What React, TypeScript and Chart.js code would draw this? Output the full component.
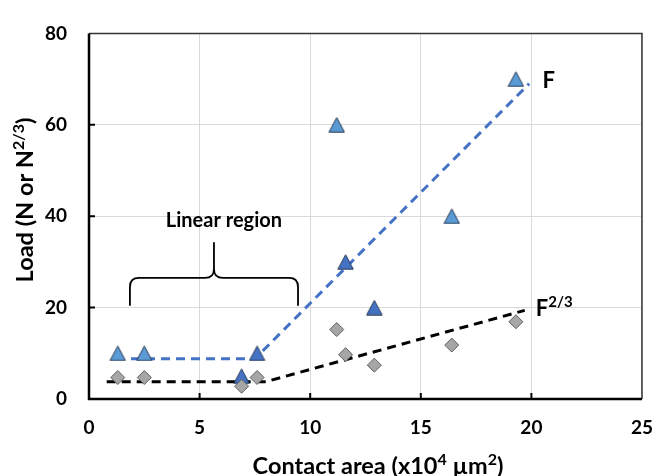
import React, { useEffect, useRef } from 'react';
import { Chart, registerables } from 'chart.js';

Chart.register(...registerables);

const FONT = 'Lato, "Open Sans", sans-serif';

// Measured series (x in 10^4 µm², y in N or N^(2/3))
const loadX = [1.3, 2.5, 6.9, 7.6, 11.2, 11.6, 12.9, 16.4, 19.3];
const loadY = [10, 10, 5, 10, 60, 30, 20, 40, 70];
const loadShade = ['light', 'light', 'dark', 'dark', 'light', 'dark', 'dark', 'light', 'light'];
const load23X = [1.3, 2.5, 6.9, 7.6, 11.2, 11.6, 12.9, 16.4, 19.3];
const load23Y = [4.7, 4.7, 2.8, 4.7, 15.2, 9.7, 7.4, 11.8, 16.9];

// Dashed guide lines
const fitFX = [1.9, 7.5, 19.9];
const fitFY = [8.8, 8.8, 69];
const fit23X = [0.8, 8.0, 19.7];
const fit23Y = [3.8, 3.8, 19.4];

// Axes
const xTicks = [0, 5, 10, 15, 20, 25];
const yTicks = [0, 20, 40, 60, 80];
const xTitleParts = [{ t: 'Contact area (x10' }, { t: '4', sup: true }, { t: ' µm' }, { t: '2', sup: true }, { t: ')' }];
const yTitleParts = [{ t: 'Load (N or N' }, { t: '2/3', sup: true }, { t: ')' }];

// Annotations
const regionLabel = 'Linear region';
const regionLabelPos = [6.1, 39.2];
const braceX = [1.85, 9.45];
const braceLevels = [20.4, 26.5, 34.3]; // ends, bar, tip
const braceMidX = 5.65;
const fLabelParts = [{ t: 'F' }];
const fLabelPos = [20.5, 69.7];
const f23LabelParts = [{ t: 'F' }, { t: '2/3', sup: true }];
const f23LabelPos = [20.2, 19.8];

type Part = { t: string; sup?: boolean };

function drawRich(ctx: CanvasRenderingContext2D, parts: Part[], x: number, y: number, size: number, align: 'left' | 'center') {
  const supSize = Math.round(size * 0.68);
  const widths = parts.map((p) => {
    ctx.font = `bold ${p.sup ? supSize : size}px ${FONT}`;
    return ctx.measureText(p.t).width;
  });
  const total = widths.reduce((a, b) => a + b, 0);
  let cx = align === 'center' ? x - total / 2 : x;
  const base = y + size * 0.36;
  ctx.textAlign = 'left';
  ctx.textBaseline = 'alphabetic';
  ctx.fillStyle = '#000';
  parts.forEach((p, i) => {
    ctx.font = `bold ${p.sup ? supSize : size}px ${FONT}`;
    ctx.fillText(p.t, cx, p.sup ? base - size * 0.42 : base);
    cx += widths[i];
  });
}

function makeTriangle(fill: string): HTMLCanvasElement {
  const c = document.createElement('canvas');
  c.width = 17;
  c.height = 16;
  const g = c.getContext('2d')!;
  g.beginPath();
  g.moveTo(8.5, 0.8);
  g.lineTo(16.2, 15.2);
  g.lineTo(0.8, 15.2);
  g.closePath();
  g.fillStyle = fill;
  g.fill();
  g.lineWidth = 1;
  g.strokeStyle = '#2b3a55';
  g.stroke();
  return c;
}

const decorPlugin = {
  id: 'decor',
  afterDatasetsDraw(chart: any) {
    const ctx: CanvasRenderingContext2D = chart.ctx;
    const xs = chart.scales.x;
    const ys = chart.scales.y;
    const { left, right, top, bottom } = chart.chartArea;
    ctx.save();
    // frame
    ctx.strokeStyle = '#333';
    ctx.lineWidth = 1.5;
    ctx.beginPath();
    ctx.moveTo(left, top);
    ctx.lineTo(right, top);
    ctx.lineTo(right, bottom);
    ctx.stroke();
    ctx.strokeStyle = '#000';
    ctx.lineWidth = 2.5;
    ctx.beginPath();
    ctx.moveTo(left, top);
    ctx.lineTo(left, bottom);
    ctx.lineTo(right, bottom);
    ctx.stroke();
    // inward tick marks
    ctx.lineWidth = 2;
    ctx.beginPath();
    xTicks.slice(1, -1).forEach((v) => {
      const px = xs.getPixelForValue(v);
      ctx.moveTo(px, bottom);
      ctx.lineTo(px, bottom - 6);
    });
    yTicks.slice(1, -1).forEach((v) => {
      const py = ys.getPixelForValue(v);
      ctx.moveTo(left, py);
      ctx.lineTo(left + 6, py);
    });
    ctx.stroke();

    // brace
    const x1 = xs.getPixelForValue(braceX[0]);
    const x2 = xs.getPixelForValue(braceX[1]);
    const xm = xs.getPixelForValue(braceMidX);
    const yEnd = ys.getPixelForValue(braceLevels[0]);
    const yBar = ys.getPixelForValue(braceLevels[1]);
    const yTip = ys.getPixelForValue(braceLevels[2]);
    const r = 9;
    ctx.lineWidth = 1.8;
    ctx.strokeStyle = '#000';
    ctx.beginPath();
    ctx.moveTo(x1, yEnd);
    ctx.lineTo(x1, yBar + r);
    ctx.quadraticCurveTo(x1, yBar, x1 + r, yBar);
    ctx.lineTo(xm - r, yBar);
    ctx.quadraticCurveTo(xm, yBar, xm, yBar - r);
    ctx.lineTo(xm, yTip);
    ctx.moveTo(xm, yBar - r);
    ctx.quadraticCurveTo(xm, yBar, xm + r, yBar);
    ctx.lineTo(x2 - r, yBar);
    ctx.quadraticCurveTo(x2, yBar, x2, yBar + r);
    ctx.lineTo(x2, yEnd);
    ctx.stroke();

    // labels
    drawRich(ctx, [{ t: regionLabel }], xs.getPixelForValue(regionLabelPos[0]), ys.getPixelForValue(regionLabelPos[1]), 20, 'center');
    drawRich(ctx, fLabelParts, xs.getPixelForValue(fLabelPos[0]), ys.getPixelForValue(fLabelPos[1]), 22, 'left');
    drawRich(ctx, f23LabelParts, xs.getPixelForValue(f23LabelPos[0]), ys.getPixelForValue(f23LabelPos[1]), 22, 'left');

    // axis titles
    drawRich(ctx, xTitleParts, 378, 466, 23.5, 'center');
    ctx.save();
    ctx.translate(25, 200);
    ctx.rotate(-Math.PI / 2);
    drawRich(ctx, yTitleParts, 0, 0, 23.5, 'center');
    ctx.restore();
    ctx.restore();
  },
};

export default function App() {
  const ref = useRef<HTMLCanvasElement | null>(null);
  useEffect(() => {
    if (!ref.current) return;
    const light = makeTriangle('#5b9bd5');
    const dark = makeTriangle('#4472c4');
    const chart = new Chart(ref.current, {
      type: 'scatter',
      data: {
        datasets: [
          {
            label: 'F',
            data: loadX.map((x, i) => ({ x, y: loadY[i] })),
            pointStyle: loadShade.map((s) => (s === 'light' ? light : dark)) as any,
            pointRadius: 8,
            order: 3,
          },
          {
            label: 'F^(2/3)',
            data: load23X.map((x, i) => ({ x, y: load23Y[i] })),
            pointStyle: 'rectRot',
            pointRadius: 7,
            backgroundColor: '#a6a6a6',
            borderColor: '#5f5f5f',
            borderWidth: 1,
            order: 2,
          },
          {
            label: 'F trend',
            data: fitFX.map((x, i) => ({ x, y: fitFY[i] })),
            showLine: true,
            borderColor: '#4472c4',
            borderWidth: 3,
            borderDash: [9, 6],
            pointRadius: 0,
            order: 5,
          },
          {
            label: 'F^(2/3) trend',
            data: fit23X.map((x, i) => ({ x, y: fit23Y[i] })),
            showLine: true,
            borderColor: '#000000',
            borderWidth: 3,
            borderDash: [9, 6],
            pointRadius: 0,
            order: 4,
          },
        ],
      },
      options: {
        animation: false,
        responsive: false,
        layout: { padding: { top: 19, right: 26, left: 0, bottom: 0 } },
        plugins: { legend: { display: false }, tooltip: { enabled: false } },
        scales: {
          x: {
            type: 'linear',
            min: 0,
            max: 25,
            afterBuildTicks: (s: any) => {
              s.ticks = xTicks.map((v) => ({ value: v }));
            },
            afterFit: (s: any) => {
              s.height = 77;
            },
            grid: { color: '#d9d9d9', lineWidth: 1, drawTicks: false },
            border: { display: false },
            ticks: { padding: 17, color: '#000', font: { family: FONT, size: 19, weight: 'bold' } },
          },
          y: {
            type: 'linear',
            min: 0,
            max: 80,
            afterBuildTicks: (s: any) => {
              s.ticks = yTicks.map((v) => ({ value: v }));
            },
            afterFit: (s: any) => {
              s.width = 89;
            },
            grid: { color: '#d9d9d9', lineWidth: 1, drawTicks: false },
            border: { display: false },
            ticks: { padding: 22, color: '#000', font: { family: FONT, size: 19, weight: 'bold' } },
          },
        },
      },
      plugins: [decorPlugin],
    });
    return () => chart.destroy();
  }, []);
  return (
    <div style={{ position: 'absolute', left: 0, top: 0, width: 670, height: 476, background: '#fff' }}>
      <canvas ref={ref} width={670} height={476} />
    </div>
  );
}
